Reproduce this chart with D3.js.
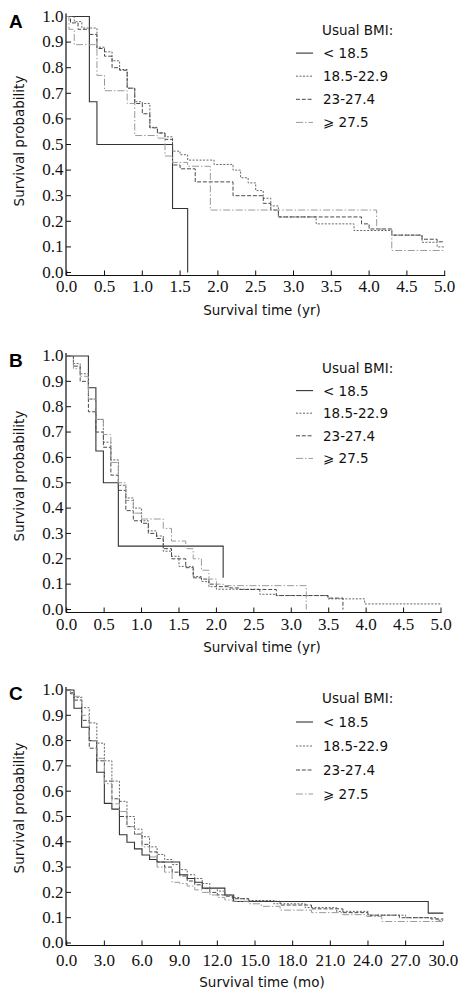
<!DOCTYPE html>
<html><head><meta charset="utf-8">
<script src="https://cdn.jsdelivr.net/npm/d3@7"></script>
<style>body{margin:0;background:#fff}</style>
</head><body>
<svg id="c" width="469" height="998"></svg>
<script>
// ---------- data ----------
const legendTitle = "Usual BMI:";
const groups = ["< 18.5", "18.5-22.9", "23-27.4", "\u2A7E 27.5"];
const yTickValues = [0,0.1,0.2,0.3,0.4,0.5,0.6,0.7,0.8,0.9,1.0];
const xTicksYr = [0,0.5,1,1.5,2,2.5,3,3.5,4,4.5,5];
const xTicksMo = [0,3,6,9,12,15,18,21,24,27,30];

// Panel A (years)
const A_lt185 = [[0,1],[0.3,0.667],[0.4,0.5],[1.4,0.25],[1.6,0]];
const A_n185 = [[0,1],[0.1,0.98],[0.2,0.955],[0.4,0.88],[0.5,0.862],[0.6,0.827],[0.7,0.793],[0.8,0.72],[0.9,0.667],[1.0,0.66],[1.1,0.567],[1.2,0.545],[1.3,0.53],[1.4,0.474],[1.5,0.46],[1.6,0.439],[1.95,0.422],[2.2,0.4],[2.3,0.37],[2.4,0.35],[2.5,0.32],[2.6,0.29],[2.7,0.26],[2.8,0.217],[3.3,0.19],[3.8,0.164],[4.3,0.146],[4.7,0.118],[4.9,0.1],[5.0,0.1]];
const A_o23 = [[0,1],[0.05,0.975],[0.15,0.95],[0.3,0.93],[0.4,0.875],[0.5,0.845],[0.6,0.8],[0.7,0.79],[0.8,0.72],[0.9,0.66],[1.0,0.62],[1.1,0.565],[1.2,0.545],[1.3,0.52],[1.4,0.42],[1.5,0.405],[1.7,0.354],[2.2,0.3],[2.6,0.27],[2.7,0.244],[2.8,0.217],[3.9,0.19],[4.0,0.17],[4.3,0.146],[4.7,0.13],[4.9,0.12],[5.0,0.12]];
const A_ob275 = [[0,1],[0.03,0.95],[0.1,0.89],[0.4,0.77],[0.5,0.71],[0.8,0.66],[0.9,0.535],[1.2,0.525],[1.3,0.455],[1.4,0.43],[1.6,0.415],[1.9,0.244],[4.1,0.17],[4.3,0.086],[5.0,0.086]];

// Panel B (years)
const B_lt185 = [[0,1],[0.29,0.875],[0.39,0.625],[0.49,0.5],[0.69,0.25],[2.09,0.125]];
const B_n185 = [[0,1],[0.09,0.97],[0.18,0.93],[0.29,0.83],[0.39,0.75],[0.49,0.66],[0.59,0.59],[0.69,0.49],[0.79,0.44],[0.89,0.4],[1.0,0.35],[1.09,0.31],[1.2,0.29],[1.29,0.23],[1.4,0.21],[1.5,0.17],[1.69,0.13],[1.8,0.11],[1.9,0.09],[2.0,0.08],[2.58,0.06],[2.8,0.055],[3.49,0.042],[3.98,0.022],[5.0,0.022]];
const B_o23 = [[0,1],[0.09,0.96],[0.18,0.9],[0.29,0.78],[0.39,0.7],[0.49,0.64],[0.59,0.53],[0.69,0.47],[0.79,0.39],[0.89,0.35],[1.0,0.34],[1.09,0.3],[1.2,0.28],[1.29,0.24],[1.4,0.2],[1.59,0.165],[1.69,0.125],[1.8,0.12],[1.9,0.1],[2.0,0.09],[2.18,0.085],[2.31,0.079],[2.8,0.055],[3.49,0.045],[3.69,0]];
const B_ob275 = [[0,1],[0.09,0.95],[0.18,0.92],[0.29,0.83],[0.39,0.75],[0.49,0.69],[0.59,0.58],[0.69,0.5],[0.79,0.43],[0.89,0.38],[1.0,0.357],[1.29,0.32],[1.4,0.27],[1.59,0.24],[1.69,0.2],[1.8,0.155],[1.9,0.12],[2.0,0.1],[2.09,0.094],[3.2,0]];

// Panel C (months)
const C_lt185 = [[0,1],[0.58,0.928],[1.19,0.853],[1.8,0.8],[2.39,0.675],[3.0,0.552],[3.6,0.529],[4.2,0.428],[4.8,0.398],[5.4,0.372],[6.0,0.348],[6.6,0.33],[7.2,0.32],[9.0,0.27],[9.6,0.255],[10.2,0.24],[10.8,0.217],[12.6,0.19],[13.3,0.164],[28.8,0.118],[30,0.118]];
const C_n185 = [[0,1],[0.3,0.99],[0.6,0.97],[1.2,0.93],[1.8,0.87],[2.4,0.79],[3.0,0.72],[3.6,0.64],[4.2,0.56],[4.8,0.5],[5.4,0.45],[6.0,0.42],[6.6,0.38],[7.2,0.35],[7.8,0.33],[8.4,0.31],[9.0,0.29],[9.6,0.27],[10.2,0.255],[10.8,0.235],[11.4,0.215],[12.0,0.205],[12.6,0.19],[13.2,0.18],[13.8,0.175],[14.5,0.168],[16.5,0.155],[19,0.14],[21.5,0.125],[24,0.11],[27,0.1],[29.5,0.09],[30,0.09]];
const C_o23 = [[0,1],[0.3,0.985],[0.6,0.96],[1.2,0.88],[1.8,0.77],[2.4,0.72],[3.0,0.64],[3.6,0.57],[4.2,0.5],[4.8,0.46],[5.4,0.43],[6.0,0.39],[6.6,0.36],[7.2,0.32],[7.8,0.3],[8.4,0.28],[9.0,0.265],[9.6,0.245],[10.2,0.23],[10.8,0.215],[11.4,0.2],[12.0,0.19],[12.6,0.185],[13.2,0.175],[14.5,0.165],[17,0.15],[19.5,0.135],[22,0.12],[24,0.11],[26.5,0.1],[29,0.095],[30,0.095]];
const C_ob275 = [[0,1],[0.3,0.99],[0.6,0.975],[1.2,0.9],[1.8,0.8],[2.4,0.73],[3.0,0.63],[3.6,0.55],[4.2,0.52],[4.8,0.46],[5.4,0.43],[6.0,0.38],[6.6,0.34],[7.2,0.3],[7.8,0.28],[8.4,0.24],[9.0,0.235],[9.6,0.225],[10.2,0.21],[10.8,0.2],[11.4,0.19],[12.0,0.18],[12.6,0.17],[13.2,0.165],[14.5,0.155],[15.5,0.145],[17,0.13],[19.5,0.12],[22,0.112],[23.9,0.105],[25.1,0.085],[30,0.085]];

// ---------- styles ----------
const lineStyles = [
  {stroke:"#333", dash:null, w:1.1},
  {stroke:"#666", dash:"2,1.5", w:1},
  {stroke:"#4a4a4a", dash:"4,1.8", w:1},
  {stroke:"#9a9a9a", dash:"7,2,1.5,2", w:1}
];
const SANS = "'DejaVu Sans', sans-serif";
const SERIF = "'Liberation Serif', 'Times New Roman', serif";
const TICK_FS = 17;

const panels = [
  {letter:"A", series:[A_lt185,A_n185,A_o23,A_ob275], xTicks:xTicksYr, xMax:5, xTitle:"Survival time (yr)",
   x0:66.7, x1:444.7, yTop:16.5, yBot:272.5, axisY:275.5, letterY:28, legY:30, legStep:23.1, yTitleCY:141, xTitleCY:310, tickLabCY:286},
  {letter:"B", series:[B_lt185,B_n185,B_o23,B_ob275], xTicks:xTicksYr, xMax:5, xTitle:"Survival time (yr)",
   x0:66.7, x1:441, yTop:356, yBot:609.5, axisY:612.5, letterY:367, legY:368, legStep:22.6, yTitleCY:476, xTitleCY:647, tickLabCY:624.5},
  {letter:"C", series:[C_lt185,C_n185,C_o23,C_ob275], xTicks:xTicksMo, xMax:30, xTitle:"Survival time (mo)",
   x0:66.7, x1:443.3, yTop:690, yBot:943, axisY:945.5, letterY:700, legY:698, legStep:24, yTitleCY:808, xTitleCY:982, tickLabCY:960}
];

const svg = d3.select("#c");

panels.forEach(p => {
  const g = svg.append("g");
  const x = d3.scaleLinear().domain([0, p.xMax]).range([p.x0, p.x1]);
  const y = d3.scaleLinear().domain([0, 1]).range([p.yBot, p.yTop]);

  // axes lines
  g.append("line").attr("x1",66).attr("x2",66).attr("y1",p.yTop-3).attr("y2",p.axisY)
    .attr("stroke","#111").attr("stroke-width",1.2);
  g.append("line").attr("x1",66).attr("x2",p.x1+0.5).attr("y1",p.axisY).attr("y2",p.axisY)
    .attr("stroke","#111").attr("stroke-width",1.2);

  // y ticks (inside) + labels
  yTickValues.forEach(v => {
    g.append("line").attr("x1",66).attr("x2",71).attr("y1",y(v)).attr("y2",y(v))
      .attr("stroke","#111").attr("stroke-width",1);
    g.append("text").attr("x",63.5).attr("y",y(v)+5.3).attr("text-anchor","end")
      .attr("font-family",SERIF).attr("font-size",TICK_FS).attr("fill","#111").text(v.toFixed(1));
  });
  // x ticks (inside) + labels
  p.xTicks.forEach(t => {
    g.append("line").attr("x1",x(t)).attr("x2",x(t)).attr("y1",p.axisY).attr("y2",p.axisY-5)
      .attr("stroke","#111").attr("stroke-width",1);
    g.append("text").attr("x",x(t)).attr("y",p.tickLabCY+5.6).attr("text-anchor","middle")
      .attr("font-family",SERIF).attr("font-size",TICK_FS).attr("fill","#111").text(t.toFixed(1));
  });

  // titles
  g.append("text").attr("transform",`translate(23.5,${p.yTitleCY}) rotate(-90)`).attr("text-anchor","middle")
    .attr("font-family",SANS).attr("font-size",13.5).attr("fill","#111").text("Survival probability");
  g.append("text").attr("x",262).attr("y",p.xTitleCY+5).attr("text-anchor","middle")
    .attr("font-family",SANS).attr("font-size",13.5).attr("fill","#111").text(p.xTitle);
  g.append("text").attr("x",9).attr("y",p.letterY).attr("font-family","'Liberation Sans', Arial, sans-serif")
    .attr("font-weight","bold").attr("font-size",19).attr("fill","#000").text(p.letter);

  // curves
  const line = d3.line().x(d => x(d[0])).y(d => y(d[1])).curve(d3.curveStepAfter);
  p.series.forEach((s, i) => {
    const st = lineStyles[i];
    g.append("path").attr("d", line(s)).attr("fill","none").attr("stroke",st.stroke)
      .attr("stroke-width",st.w).attr("stroke-dasharray",st.dash);
  });

  // legend
  g.append("text").attr("x",322).attr("y",p.legY+5).attr("font-family",SANS).attr("font-size",13.5)
    .attr("fill","#111").text(legendTitle);
  groups.forEach((lab, i) => {
    const cy = p.legY + p.legStep*(i+1);
    const st = lineStyles[i];
    g.append("line").attr("x1",296).attr("x2",313).attr("y1",cy).attr("y2",cy)
      .attr("stroke",st.stroke).attr("stroke-width",st.w).attr("stroke-dasharray",st.dash);
    g.append("text").attr("x",323).attr("y",cy+5).attr("font-family",SANS).attr("font-size",13.5)
      .attr("fill","#111").text(lab);
  });
});
</script>
</body></html>
